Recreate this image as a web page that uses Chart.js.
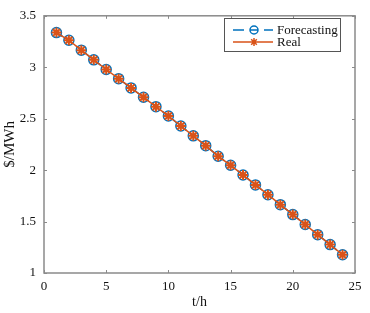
<!DOCTYPE html>
<html>
<head>
<meta charset="utf-8">
<script src="https://cdn.jsdelivr.net/npm/chart.js@4.4.0/dist/chart.umd.min.js"></script>
<style>
  html, body { margin: 0; padding: 0; background: #fff; }
  #wrap { width: 370px; height: 313px; }
</style>
</head>
<body>
<div id="wrap"><canvas id="price-chart" width="370" height="313"></canvas></div>
<script>
  var hours = [1, 2, 3, 4, 5, 6, 7, 8, 9, 10, 11, 12, 13, 14, 15, 16, 17, 18, 19, 20, 21, 22, 23, 24];
  var forecasting = [3.337, 3.262, 3.166, 3.072, 2.978, 2.889, 2.799, 2.708, 2.617, 2.526, 2.429, 2.333, 2.238, 2.135, 2.047, 1.953, 1.856, 1.761, 1.664, 1.568, 1.471, 1.373, 1.276, 1.177];
  var real = [3.337, 3.262, 3.166, 3.072, 2.978, 2.889, 2.799, 2.708, 2.617, 2.526, 2.429, 2.333, 2.238, 2.135, 2.047, 1.953, 1.856, 1.761, 1.664, 1.568, 1.471, 1.373, 1.276, 1.177];
  var xTicks = [0, 5, 10, 15, 20, 25];
  var yTicks = [1, 1.5, 2, 2.5, 3, 3.5];

  var blue = '#0072BD';
  var orange = '#D95319';
  var axisGray = '#8a8a8a';
  var serif = '"Liberation Serif", "DejaVu Serif", serif';

  function toPoints(ys) {
    return hours.map(function (h, i) { return { x: h, y: ys[i] }; });
  }

  // box around the plot, inward ticks and the legend, MATLAB style
  var matlabFrame = {
    id: 'matlabFrame',
    afterDraw: function (chart) {
      var ctx = chart.ctx;
      var a = chart.chartArea;
      var xs = chart.scales.x;
      var ys = chart.scales.y;
      ctx.save();
      ctx.strokeStyle = axisGray;
      ctx.lineWidth = 1.5;
      ctx.strokeRect(a.left, a.top, a.right - a.left, a.bottom - a.top);
      ctx.lineWidth = 1;
      ctx.beginPath();
      xTicks.forEach(function (t) {
        var px = Math.round(xs.getPixelForValue(t)) + 0.5;
        ctx.moveTo(px, a.bottom); ctx.lineTo(px, a.bottom - 3);
        ctx.moveTo(px, a.top); ctx.lineTo(px, a.top + 3);
      });
      yTicks.forEach(function (t) {
        var py = Math.round(ys.getPixelForValue(t)) + 0.5;
        ctx.moveTo(a.left, py); ctx.lineTo(a.left + 3, py);
        ctx.moveTo(a.right, py); ctx.lineTo(a.right - 3, py);
      });
      ctx.stroke();

      // legend
      var lx = 224, ly = 18, lw = 116, lh = 33;
      ctx.fillStyle = '#fff';
      ctx.fillRect(lx, ly, lw, lh);
      ctx.strokeStyle = '#555';
      ctx.strokeRect(lx + 0.5, ly + 0.5, lw, lh);
      var rows = [
        { label: 'Forecasting', color: blue, y: 30 },
        { label: 'Real', color: orange, y: 42 }
      ];
      rows.forEach(function (r) {
        var cx = 254;
        ctx.strokeStyle = r.color;
        ctx.lineWidth = 1.5;
        if (r.label === 'Real') {
          ctx.beginPath();
          ctx.moveTo(233, r.y); ctx.lineTo(273, r.y);
          for (var k = 0; k < 4; k++) {
            var ang = k * Math.PI / 4;
            ctx.moveTo(cx - 4 * Math.cos(ang), r.y - 4 * Math.sin(ang));
            ctx.lineTo(cx + 4 * Math.cos(ang), r.y + 4 * Math.sin(ang));
          }
          ctx.stroke();
        } else {
          ctx.beginPath();
          ctx.moveTo(233, r.y); ctx.lineTo(244, r.y);
          ctx.moveTo(250, r.y); ctx.lineTo(258, r.y);
          ctx.moveTo(264, r.y); ctx.lineTo(273, r.y);
          ctx.stroke();
          ctx.beginPath();
          ctx.arc(cx, r.y, 4, 0, Math.PI * 2);
          ctx.stroke();
        }
        ctx.fillStyle = '#111';
        ctx.font = '13px ' + serif;
        ctx.textBaseline = 'middle';
        ctx.textAlign = 'left';
        ctx.fillText(r.label, 277, r.y + 1);
      });
      ctx.restore();
    }
  };

  var chartContext = document.getElementById('price-chart');
  var chart = new Chart(chartContext, {
    type: 'line',
    data: {
      datasets: [
        {
          label: 'Forecasting',
          data: toPoints(forecasting),
          order: 2,
          borderColor: blue,
          borderWidth: 1.5,
          borderDash: [7, 5],
          pointStyle: 'circle',
          pointRadius: 5,
          pointBorderWidth: 1.5,
          pointBorderColor: blue,
          pointBackgroundColor: 'rgba(0,0,0,0)',
          tension: 0
        },
        {
          label: 'Real',
          data: toPoints(real),
          order: 1,
          borderColor: orange,
          borderWidth: 1.5,
          pointStyle: 'star',
          pointRadius: 5,
          pointBorderWidth: 2,
          pointBorderColor: orange,
          pointBackgroundColor: orange,
          tension: 0
        }
      ]
    },
    options: {
      responsive: false,
      animation: false,
      devicePixelRatio: 1,
      layout: { padding: { top: 7, right: 15, left: 0, bottom: 0 } },
      plugins: {
        legend: { display: false },
        tooltip: { enabled: false }
      },
      scales: {
        x: {
          type: 'linear',
          min: 0,
          max: 25,
          afterBuildTicks: function (scale) {
            scale.ticks = xTicks.map(function (v) { return { value: v }; });
          },
          afterFit: function (scale) { scale.height = 40; },
          grid: { display: false, drawTicks: false },
          border: { display: false },
          ticks: {
            padding: 6,
            color: '#111',
            font: { family: serif, size: 13 },
            maxRotation: 0
          },
          title: {
            display: true,
            text: 't/h',
            color: '#111',
            font: { family: serif, size: 14 },
            padding: { top: 0, bottom: 2 }
          }
        },
        y: {
          type: 'linear',
          min: 1,
          max: 3.5,
          afterBuildTicks: function (scale) {
            scale.ticks = yTicks.map(function (v) { return { value: v }; });
          },
          afterFit: function (scale) { scale.width = 44; },
          grid: { display: false, drawTicks: false },
          border: { display: false },
          ticks: {
            padding: 8,
            color: '#111',
            font: { family: serif, size: 13 },
            callback: function (v) { return String(v); }
          },
          title: {
            display: true,
            text: '$/MWh',
            color: '#111',
            font: { family: serif, size: 15 },
            padding: { top: 1, bottom: 0 }
          }
        }
      }
    },
    plugins: [matlabFrame]
  });
</script>
</body>
</html>
